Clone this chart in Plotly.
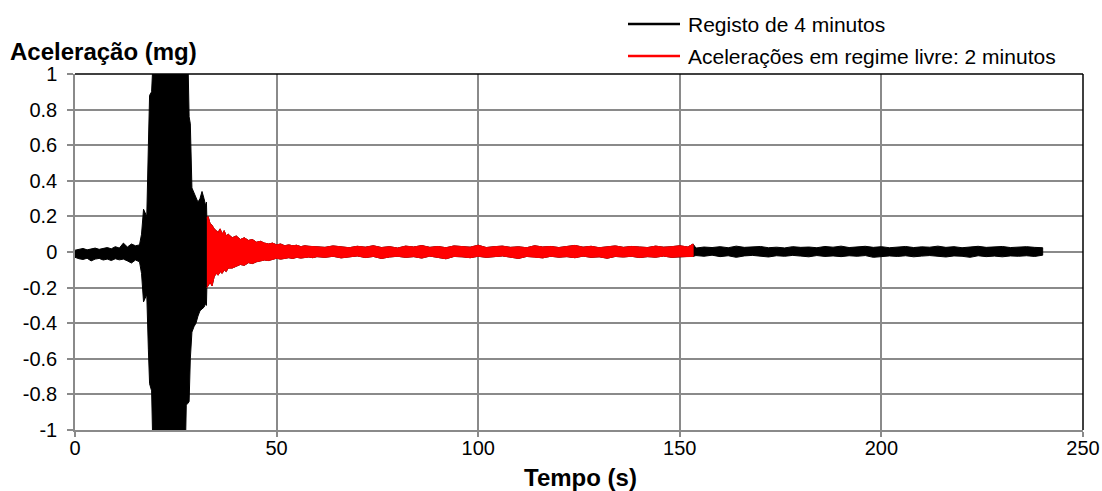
import plotly.graph_objects as go

# ---------------- data (mg) ----------------
# quiet record before the event (upper / lower envelope of the trace)
pre_t = list(range(0, 17))
pre_up = [0.010, 0.015, 0.020, 0.012, 0.018, 0.022, 0.015, 0.020, 0.025, 0.018,
          0.030, 0.022, 0.050, 0.028, 0.045, 0.035, 0.040]
pre_lo = [-0.030, -0.038, -0.042, -0.035, -0.050, -0.040, -0.036, -0.045, -0.040, -0.048,
          -0.038, -0.044, -0.040, -0.050, -0.062, -0.045, -0.055]

# forced excitation burst (beyond +/-1 the trace is cut by the axis)
burst_t = [16.5, 17.0, 17.4, 17.8, 18.2, 18.5, 19.0, 19.4, 20, 22, 24, 26, 27.3, 27.6,
           28.0, 28.3, 28.6, 29.0, 29.5, 30.0, 30.5, 31.0, 31.5, 32.0, 32.4, 32.6]
burst_up = [0.10, 0.24, 0.22, 0.20, 0.60, 0.88, 0.90, 1.20, 1.40, 1.50, 1.50, 1.40, 1.30, 1.20,
            1.10, 0.76, 0.72, 0.36, 0.33, 0.30, 0.28, 0.30, 0.34, 0.30, 0.26, 0.28]
burst_lo = [-0.12, -0.28, -0.26, -0.24, -0.55, -0.74, -0.78, -1.20, -1.40, -1.50, -1.50, -1.40, -1.20, -0.86,
            -0.85, -0.84, -0.60, -0.45, -0.42, -0.40, -0.36, -0.33, -0.32, -0.31, -0.29, -0.30]

# free decay
dec_t = [32.7, 33.0, 33.5, 34.0, 34.5, 35.0, 35.5, 36.0, 36.5, 37.0, 37.5, 38, 39, 40, 41, 42,
         43, 44, 45, 46, 47, 48, 49, 50, 51, 52, 53, 54, 55, 56, 57, 58, 59]
dec_up = [0.19, 0.20, 0.16, 0.15, 0.13, 0.12, 0.11, 0.13, 0.10, 0.12, 0.09, 0.10, 0.08, 0.09, 0.07, 0.08,
          0.065, 0.07, 0.055, 0.06, 0.05, 0.045, 0.05, 0.04, 0.045, 0.035, 0.04, 0.035, 0.038, 0.03, 0.035, 0.032, 0.03]
dec_lo = [-0.20, -0.19, -0.17, -0.19, -0.14, -0.12, -0.13, -0.11, -0.12, -0.10, -0.11, -0.09, -0.09, -0.08, -0.07, -0.075,
          -0.06, -0.065, -0.055, -0.05, -0.045, -0.048, -0.04, -0.035, -0.04, -0.035, -0.032, -0.036, -0.03, -0.034, -0.03, -0.028, -0.032]

# ambient part inside the 2-minute window
st1_t = list(range(60, 153, 2))
st1_up = [0.030, 0.026, 0.034, 0.028, 0.024, 0.032, 0.027, 0.035, 0.025, 0.030,
          0.022, 0.033, 0.028, 0.036, 0.026, 0.031, 0.024, 0.034, 0.029, 0.027,
          0.038, 0.025, 0.030, 0.033, 0.026, 0.029, 0.024, 0.035, 0.028, 0.031,
          0.025, 0.030, 0.037, 0.027, 0.032, 0.024, 0.029, 0.034, 0.026, 0.031,
          0.028, 0.025, 0.033, 0.027, 0.030, 0.035, 0.028]
st1_lo = [-0.026, -0.030, -0.024, -0.033, -0.027, -0.022, -0.031, -0.025, -0.036, -0.028,
          -0.024, -0.030, -0.026, -0.034, -0.023, -0.029, -0.038, -0.025, -0.027, -0.032,
          -0.024, -0.030, -0.026, -0.022, -0.031, -0.036, -0.025, -0.028, -0.033, -0.024,
          -0.029, -0.026, -0.032, -0.023, -0.030, -0.027, -0.035, -0.025, -0.028, -0.024,
          -0.031, -0.026, -0.029, -0.023, -0.030, -0.027, -0.025]

# end of the 2-minute window
end_t = [153.3]
end_up = [0.045]
end_lo = [-0.025]

# ambient part after the window
st2_t = list(range(154, 241, 2))
st2_up = [0.022, 0.028, 0.025, 0.030, 0.024, 0.033, 0.026, 0.029, 0.031, 0.024,
          0.027, 0.023, 0.030, 0.026, 0.028, 0.024, 0.031, 0.027, 0.033, 0.025,
          0.029, 0.032, 0.026, 0.030, 0.024, 0.028, 0.031, 0.025, 0.029, 0.027,
          0.033, 0.026, 0.030, 0.024, 0.028, 0.032, 0.026, 0.029, 0.031, 0.025,
          0.028, 0.030, 0.026, 0.024]
st2_lo = [-0.020, -0.024, -0.018, -0.026, -0.021, -0.030, -0.022, -0.019, -0.025, -0.028,
          -0.021, -0.024, -0.019, -0.023, -0.027, -0.020, -0.025, -0.022, -0.026, -0.021,
          -0.024, -0.020, -0.030, -0.026, -0.022, -0.025, -0.021, -0.027, -0.023, -0.020,
          -0.025, -0.028, -0.022, -0.024, -0.030, -0.021, -0.026, -0.023, -0.027, -0.022,
          -0.024, -0.021, -0.025, -0.018]

free_start, free_end = 32.7, 153.3

series_names = ["Registo de 4 minutos", "Acelerações em regime livre: 2 minutos"]
series_colors = ["#000000", "#FF0000"]

x_ticks = [0, 50, 100, 150, 200, 250]
y_ticks = [-1, -0.8, -0.6, -0.4, -0.2, 0, 0.2, 0.4, 0.6, 0.8, 1]
y_ticktext = ["-1", "-0.8", "-0.6", "-0.4", "-0.2", "0", "0.2", "0.4", "0.6", "0.8", "1"]

# ---------------- build ----------------
t_all = pre_t + burst_t + dec_t + st1_t + end_t + st2_t
up_all = pre_up + burst_up + dec_up + st1_up + end_up + st2_up
lo_all = pre_lo + burst_lo + dec_lo + st1_lo + end_lo + st2_lo
assert len(t_all) == len(up_all) == len(lo_all)

idx = [i for i, t in enumerate(t_all) if free_start <= t <= free_end]
t_red = [t_all[i] for i in idx]
up_red = [up_all[i] for i in idx]
lo_red = [lo_all[i] for i in idx]

FONT = "Arial, 'Liberation Sans', sans-serif"
GRID = "#8a8a8a"

fig = go.Figure()
fig.add_trace(go.Scatter(
    x=t_all + t_all[::-1], y=up_all + lo_all[::-1],
    mode="lines", fill="toself", fillcolor=series_colors[0],
    line=dict(color=series_colors[0], width=1), name=series_names[0],
    hoverinfo="skip", showlegend=False))
fig.add_trace(go.Scatter(
    x=t_red + t_red[::-1], y=up_red + lo_red[::-1],
    mode="lines", fill="toself", fillcolor=series_colors[1],
    line=dict(color=series_colors[1], width=1), name=series_names[1],
    hoverinfo="skip", showlegend=False))

W, H = 1102, 491
L, R, T, B = 75, 19, 74, 61
pw, ph = W - L - R, H - T - B


def px(xp):
    return (xp - L) / pw


def py(yp):
    return (H - B - yp) / ph


fig.update_layout(
    width=W, height=H, autosize=False,
    margin=dict(l=L, r=R, t=T, b=B, autoexpand=False),
    paper_bgcolor="white", plot_bgcolor="white",
    font=dict(family=FONT, size=20, color="black"),
    showlegend=False,
    xaxis=dict(range=[0, 250], tickvals=x_ticks, ticks="outside", ticklen=5,
               tickcolor=GRID, tickwidth=1.5, showgrid=True, gridcolor=GRID, gridwidth=1.5,
               showline=True, linecolor=GRID, linewidth=1.5, zeroline=False,
               automargin=False, ticklabelstandoff=-6, tickfont=dict(size=20)),
    yaxis=dict(range=[-1, 1], tickvals=y_ticks, ticktext=y_ticktext, ticks="outside",
               ticklen=6, tickcolor=GRID, tickwidth=1.5, showgrid=True, gridcolor=GRID,
               gridwidth=1.5, showline=True, linecolor=GRID, linewidth=1.5, zeroline=False,
               automargin=False, ticklabelstandoff=6, tickfont=dict(size=20)),
)

# black top and right plot-area border
fig.add_shape(type="line", xref="paper", yref="paper", x0=0, x1=1, y0=1, y1=1,
              line=dict(color="black", width=1.5))
fig.add_shape(type="line", xref="paper", yref="paper", x0=1, x1=1, y0=0, y1=1,
              line=dict(color="black", width=1.5))

# axis titles
fig.add_annotation(text="<b>Aceleração (mg)</b>", xref="paper", yref="paper",
                   x=px(8), y=py(52), xanchor="left", yanchor="middle", showarrow=False,
                   font=dict(size=24, family=FONT))
fig.add_annotation(text="<b>Tempo (s)</b>", xref="paper", yref="paper",
                   x=px(580), y=py(477), xanchor="center", yanchor="middle", showarrow=False,
                   font=dict(size=24, family=FONT))

# legend (line samples + labels)
for k, (name, col, ypx) in enumerate(zip(series_names, series_colors, [24, 56])):
    fig.add_shape(type="line", xref="paper", yref="paper", x0=px(628), x1=px(680),
                  y0=py(ypx), y1=py(ypx), line=dict(color=col, width=2.5))
    fig.add_annotation(text=name, xref="paper", yref="paper", x=px(686), y=py(ypx),
                       xanchor="left", yanchor="middle", showarrow=False,
                       font=dict(size=21, family=FONT))

fig.write_html("out.html", config={"displayModeBar": False},
               post_script="document.body.style.margin='0';document.body.style.overflow='hidden';")
